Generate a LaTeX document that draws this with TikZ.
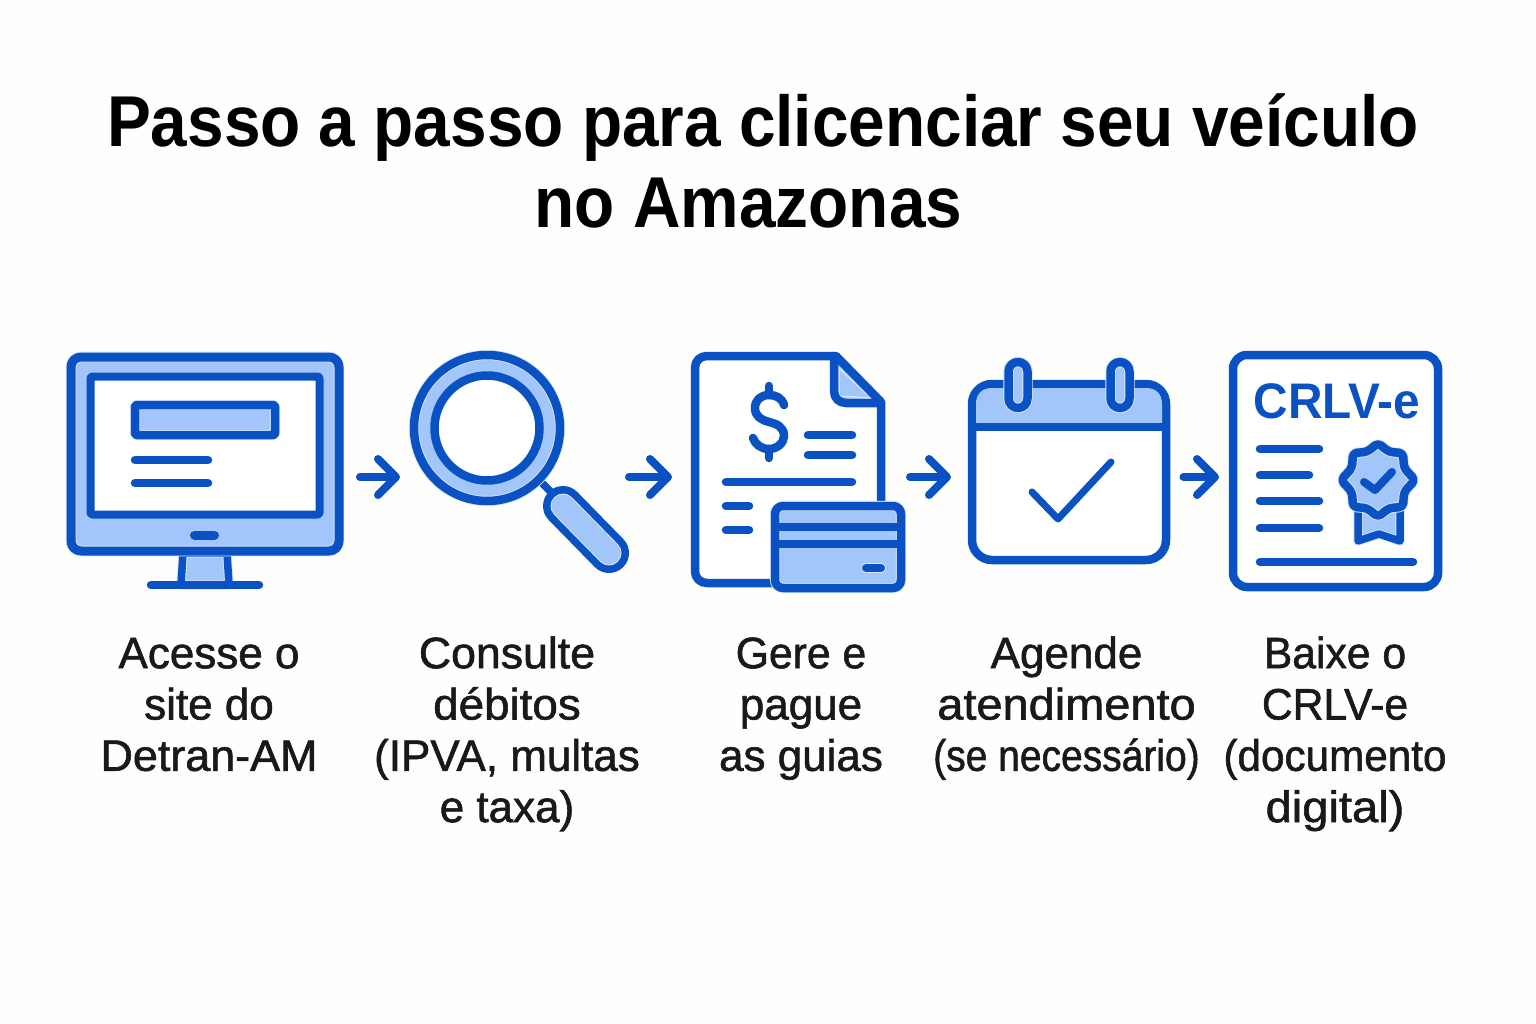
\documentclass[tikz,border=0pt]{standalone}
\usepackage{fontspec}
\usepackage{graphicx}
\usetikzlibrary{arrows.meta}
\setmainfont{Liberation Sans}
\newfontfamily\labfont[FakeBold=1.3]{Liberation Sans}
\newcommand{\sx}[2]{\scalebox{#1}[1]{#2}}
\definecolor{db}{HTML}{0A52C4}
\definecolor{lb}{HTML}{A3C6FA}
\definecolor{pale}{HTML}{D6E5FD}
\definecolor{bgc}{HTML}{FEFEFC}
\tikzset{
  ln/.style={draw=db,line width=#1,line cap=round,line join=round},
  ln/.default=8.5,
  icf/.style={fill=lb,draw=pale,line width=#1+1.8,line join=round,postaction={draw=db,line width=#1,line join=round}},
  icf/.default=8.5,
  wht/.style={fill=white,draw=db,line width=#1,line join=round},
  wht/.default=8.5,
  flow/.style={draw=db,line width=8,line cap=round,-{Straight Barb[length=18pt,width=36pt,round,line width=8pt]}},
  lab/.style={font=\labfont\fontsize{44}{51.3}\selectfont,text=black!90,align=center,anchor=north,inner sep=0pt},
  ttl/.style={font=\bfseries\fontsize{72}{81}\selectfont,text=black,align=center,anchor=north,inner sep=0pt},
}
\begin{document}
\begin{tikzpicture}[x=1pt,y=-1pt]
\fill[bgc] (0,0) rectangle (1536,1024);
\useasboundingbox (0,0) rectangle (1536,1024);
% title
\node[ttl] (title) at (763,93) {\sx{.913}{Passo a passo para clicenciar seu veículo}\\\sx{.913}{no Amazonas}\hspace*{29pt}};
% monitor
\draw[icf=7.5] (183,553) -- (181,585) -- (229,585) -- (227,553) -- cycle;
\draw[ln=8.5] (151,585) -- (259,585);
\draw[icf=9,rounded corners=10] (71,357) rectangle (339,551);
\draw[wht=8,rounded corners=2] (90.5,376.5) rectangle (319.5,514.5);
\draw[icf=8.5,rounded corners=2] (135,405) rectangle (275,435);
\draw[ln=8.5] (135,460) -- (208,460);
\draw[ln=8.5] (135,483) -- (208,483);
\draw[ln=9] (194.5,535) -- (214.5,535);
% magnifier
\draw[ln=7.5] (542,483) -- (556,497);
\draw[draw=db,line width=40,line cap=round] (563,506) -- (609,553);
\draw[draw=pale,line width=25,line cap=round] (563,506) -- (609,553);
\draw[draw=lb,line width=23,line cap=round] (563,506) -- (609,553);
\draw[icf=8.5] (487,428) circle (73);
\draw[wht=8.5] (487,428) circle (52.5);
% document
\fill[white] (695,356) -- (836,356) -- (881,402) -- (881,583) -- (695,583) -- cycle;
\fill[lb] (834,356) -- (834,391) .. controls (834,398) and (839,403) .. (846,403) -- (881,403) -- cycle;
\draw[draw=pale,line width=1.5] (839,368) -- (839,396) -- (871,398) -- cycle;
\draw[ln=8.5] (775,583) -- (707,583) .. controls (700,583) and (695,578) .. (695,571) -- (695,368) .. controls (695,361) and (700,356) .. (707,356) -- (836,356) -- (881,402) -- (881,506);
\draw[ln=8.5] (834,356) -- (834,391) .. controls (834,398) and (839,403) .. (846,403) -- (881,403);
\draw[ln=8.5] (784,405) .. controls (782,398) and (776,395) .. (769,395) .. controls (761,395) and (755,400) .. (755,408) .. controls (755,417) and (762,420) .. (769,422) .. controls (777,424) and (784,427) .. (784,436) .. controls (784,443) and (777,449) .. (769,449) .. controls (761,449) and (755,444) .. (753,438);
\draw[ln=8.5] (769,386) -- (769,395);
\draw[ln=8.5] (769,449) -- (769,458);
\draw[ln=8.5] (808,435) -- (852,435);
\draw[ln=8.5] (808,455) -- (852,455);
\draw[ln=8.5] (726,482) -- (852,482);
\draw[ln=8.5] (726,506) -- (749,506);
\draw[ln=8.5] (726,530) -- (749,530);
\draw[icf=8.5,rounded corners=8] (775,506) rectangle (901,588);
\draw[draw=db,line width=7.5] (775,527) -- (901,527);
\draw[draw=db,line width=7.5] (775,544) -- (901,544);
\draw[draw=pale,line width=10,line cap=round] (866,568) -- (881,568);
\draw[ln=8] (866,568) -- (881,568);
% calendar
\draw[wht=8.5,rounded corners=20] (972,384) rectangle (1166,560);
\fill[lb] (976,424) -- (976,404) .. controls (976,394) and (982,388) .. (992,388) -- (1146,388) .. controls (1156,388) and (1162,394) .. (1162,404) -- (1162,424) -- cycle;
\draw[draw=db,line width=8] (972,427) -- (1166,427);
\draw[icf=8.5,rounded corners=9.5] (1008.5,362) rectangle (1027.5,408);
\draw[icf=8.5,rounded corners=9.5] (1110.5,362) rectangle (1129.5,408);
\draw[ln=7] (1032,492) -- (1058,519) -- (1111,462);
% certificate
\draw[wht=8.5,rounded corners=14] (1233,355) rectangle (1438,587);
\node[font=\bfseries\fontsize{50}{50}\selectfont,text=db,anchor=base,inner sep=0pt,transform shape,xscale=.955] (crlv) at (1337,418) {CRLV-e};
\draw[ln=8.5] (1260,449) -- (1319,449);
\draw[ln=8.5] (1260,475) -- (1309,475);
\draw[ln=8.5] (1260,501) -- (1319,501);
\draw[ln=8.5] (1260,528) -- (1319,528);
\draw[ln=8.5] (1260,562) -- (1413,562);
\draw[icf=7.5] (1358,505) -- (1358,541) -- (1379,534) -- (1400,541) -- (1400,505);
\draw[icf=8.5,rounded corners=4] (1378,443) -- (1389,452) -- (1403,453) -- (1404,468) -- (1415,480) -- (1404,492) -- (1403,507) -- (1389,508) -- (1378,517) -- (1367,508) -- (1353,507) -- (1352,492) -- (1341,480) -- (1352,468) -- (1353,453) -- (1367,452) -- cycle;
\draw[ln=8] (1364,482) -- (1375,490) -- (1392,472);
% arrows
\coordinate (a1s) at (360,477); \coordinate (a1e) at (400,477);
\coordinate (a2s) at (629,477); \coordinate (a2e) at (672,477);
\coordinate (a3s) at (910,477); \coordinate (a3e) at (951,477);
\coordinate (a4s) at (1183.5,477); \coordinate (a4e) at (1219,477);
\draw[flow] (a1s) -- (a1e);
\draw[flow] (a2s) -- (a2e);
\draw[flow] (a3s) -- (a3e);
\draw[flow] (a4s) -- (a4e);
% labels
\node[lab] (l1) at (209,632) {\rule{0pt}{36pt}Acesse o\\site do\\\sx{1.02}{Detran-AM}};
\node[lab] (l2) at (507,632) {\rule{0pt}{36pt}\sx{1.015}{Consulte}\\\sx{1.04}{débitos}\\(IPVA, multas\\e taxa)};
\node[lab] (l3) at (801,632) {\rule{0pt}{36pt}\sx{.97}{Gere e}\\pague\\as guias};
\node[lab] (l4) at (1066.5,632) {\rule{0pt}{36pt}Agende\\\sx{1.067}{atendimento}\\\sx{.886}{(se necessário)}};
\node[lab] (l5) at (1335,632) {\rule{0pt}{36pt}\sx{.97}{Baixe o}\\\sx{.97}{CRLV-e}\\\sx{.96}{(documento}\\\sx{1.07}{digital)}};
\end{tikzpicture}
\end{document}
